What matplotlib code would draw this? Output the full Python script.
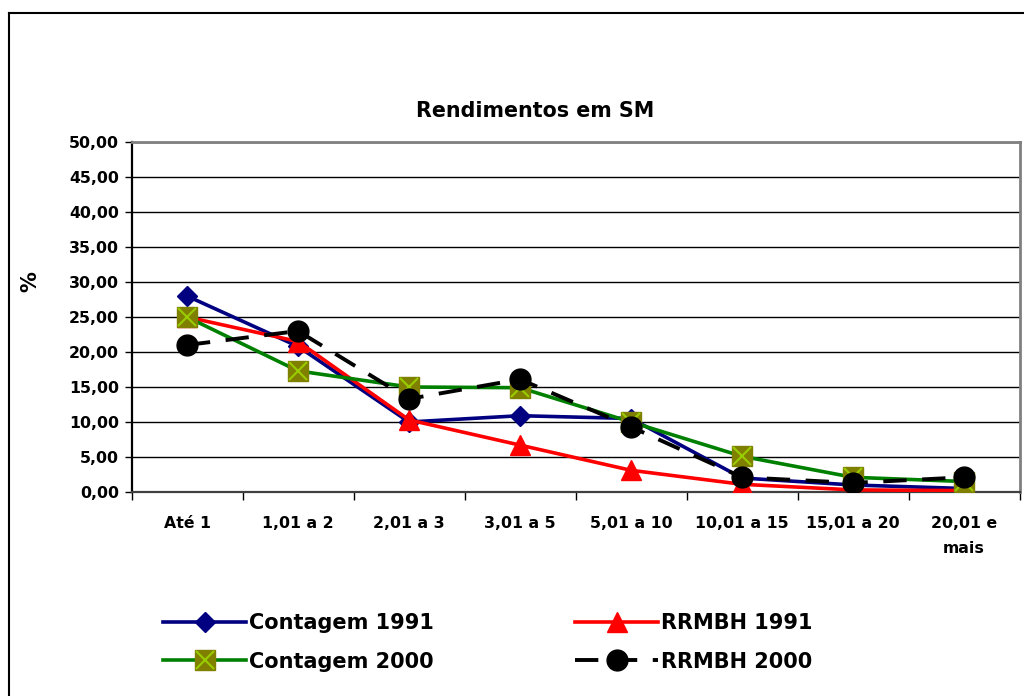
import matplotlib.pyplot as plt
import numpy as np
from matplotlib.lines import Line2D

# categorias (faixas de rendimento em salários mínimos)
faixas = ['Até 1', '1,01 a 2', '2,01 a 3', '3,01 a 5', '5,01 a 10',
          '10,01 a 15', '15,01 a 20', '20,01 e\nmais']

# percentuais
contagem_1991 = [28.0, 20.8, 10.0, 10.9, 10.5, 2.0, 1.0, 0.5]
rrmbh_1991 = [25.0, 21.5, 10.3, 6.7, 3.1, 1.1, 0.3, 0.2]
contagem_2000 = [25.0, 17.3, 15.0, 14.9, 10.0, 5.1, 2.1, 1.5]
rrmbh_2000 = [21.0, 23.0, 13.3, 16.1, 9.3, 2.1, 1.3, 2.1]

y_ticks = [0, 5, 10, 15, 20, 25, 30, 35, 40, 45, 50]

plt.rcParams['font.family'] = ['DejaVu Sans']
plt.rcParams['font.weight'] = 'bold'

fig = plt.figure(figsize=(10.24, 6.96), dpi=100)
ax = fig.add_axes([131.5 / 1024, 1 - 492 / 696, 888 / 1024, 350 / 696])

x = np.arange(len(faixas))

# grade horizontal
for v in y_ticks[1:]:
    ax.axhline(v, color='black', lw=1, zorder=1)

l1, = ax.plot(x, contagem_1991, color='#000080', lw=2.6, marker='D', ms=10,
              mfc='#000080', mec='#000080', zorder=3, label='Contagem 1991')
l2, = ax.plot(x, rrmbh_1991, color='#ff0000', lw=2.6, marker='^', ms=14,
              mfc='#ff0000', mec='#ff0000', zorder=4, label='RRMBH 1991')
l3, = ax.plot(x, contagem_2000, color='#008000', lw=2.6, marker='s', ms=14,
              mfc='#808000', mec='#808000', zorder=5, label='Contagem 2000')
l3x, = ax.plot(x, contagem_2000, ls='none', marker='x', ms=13, mew=1.5,
               color='#99cc00', zorder=5.5)
l4, = ax.plot(x, rrmbh_2000, color='black', lw=2.8, marker='o', ms=15,
              dashes=(6, 4), zorder=6, label='RRMBH 2000')

ax.set_xlim(-0.5, len(faixas) - 0.5)
ax.set_ylim(0, 50)

ax.set_yticks(y_ticks)
ax.set_yticklabels([f'{v:.2f}'.replace('.', ',') for v in y_ticks])
ax.set_xticks(x)
ax.set_xticklabels(faixas, linespacing=1.85)
ax.set_xticks(np.arange(-0.5, len(faixas)), minor=True)
ax.tick_params(axis='x', which='major', length=0, pad=17, labelsize=11.3)
ax.tick_params(axis='x', which='minor', length=6, width=1, color='black')
ax.tick_params(axis='y', length=5, width=1, pad=4, labelsize=11.3)
for lab in ax.get_xticklabels() + ax.get_yticklabels():
    lab.set_fontweight('bold')

ax.spines['left'].set_linewidth(1.6)
ax.spines['bottom'].set_linewidth(1.6)
ax.spines['bottom'].set_color('#404040')
ax.spines['top'].set_color('#808080')
ax.spines['right'].set_color('#808080')
ax.spines['top'].set_linewidth(2)
ax.spines['right'].set_linewidth(2)

fig.text(535 / 1024, 1 - 111 / 696, 'Rendimentos em SM', ha='center', va='center',
         fontsize=14.9, fontweight='bold')
fig.text(30 / 1024, 1 - 282 / 696, '%', rotation=90, ha='center', va='center',
         fontsize=15, fontweight='bold')

# legenda
handles = [l1, (l3, l3x), l2, l4]
labels = ['Contagem 1991', 'Contagem 2000', 'RRMBH 1991', 'RRMBH 2000']
fig.legend(handles, labels, ncol=2, loc='upper left',
           bbox_to_anchor=(163 / 1024, 1 - 613 / 696), frameon=False,
           prop={'size': 15, 'weight': 'bold'}, handlelength=4.0,
           handletextpad=0.15, columnspacing=6.75, labelspacing=0.9,
           borderaxespad=0, borderpad=0)

# moldura da área do gráfico
fig.add_artist(Line2D([9 / 1024, 1.0], [1 - 13 / 696] * 2, color='black', lw=1.5,
                      transform=fig.transFigure))
fig.add_artist(Line2D([9 / 1024] * 2, [0, 1 - 13 / 696], color='black', lw=1.5,
                      transform=fig.transFigure))

fig.savefig('out.png', dpi=100)
